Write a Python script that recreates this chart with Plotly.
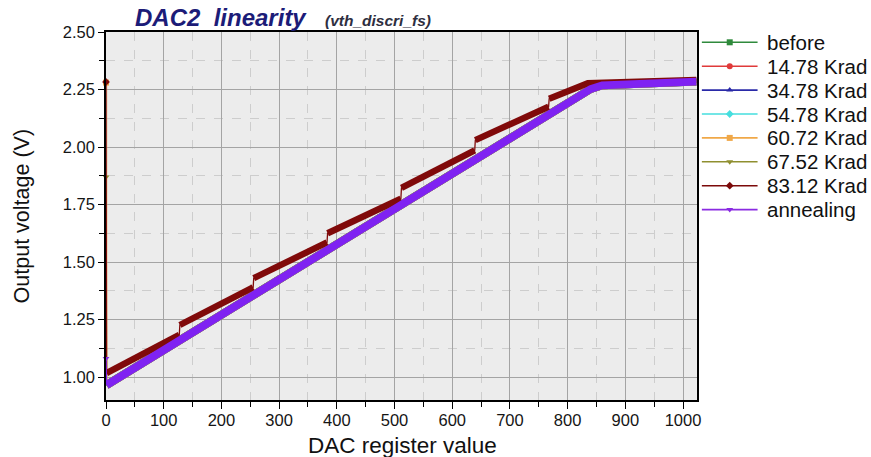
import plotly.graph_objects as go

# ---------------------------------------------------------------------------
# Data: DAC2 output voltage (V) versus register code, one list per dose step.
# The first entry of every list is the reading taken at code 0.
# ---------------------------------------------------------------------------
codes_main = [0, 1, 840, 860, 1023]
before = [0.966, 0.966, 2.253, 2.269, 2.285]
krad_14_78 = [0.965, 0.965, 2.252, 2.268, 2.285]
krad_34_78 = [0.965, 0.965, 2.252, 2.268, 2.284]
krad_54_78 = [0.965, 0.965, 2.252, 2.268, 2.284]
krad_60_72 = [2.280, 0.965, 2.252, 2.268, 2.284]
krad_67_52 = [1.870, 0.965, 2.252, 2.268, 2.284]
annealing = [1.080, 0.965, 2.252, 2.268, 2.284]

codes_83_12 = [0, 1, 127, 128, 255, 256, 383, 384, 511, 512,
               639, 640, 767, 768, 835, 1023]
krad_83_12 = [2.283, 1.017, 1.183, 1.226, 1.390, 1.430, 1.585, 1.625,
              1.775, 1.822, 1.985, 2.030, 2.175, 2.210, 2.277, 2.292]

series_names = ["before", "14.78 Krad", "34.78 Krad", "54.78 Krad",
                "60.72 Krad", "67.52 Krad", "83.12 Krad", "annealing"]
series_codes = [codes_main] * 6 + [codes_83_12, codes_main]
series_values = [before, krad_14_78, krad_34_78, krad_54_78,
                 krad_60_72, krad_67_52, krad_83_12, annealing]
series_colors = ["#2f8a3c", "#e03a3a", "#2a2aa8", "#45dede",
                 "#f0a848", "#8f8f30", "#7c0a0a", "#8a2be2"]
band_colors = ["#2f8a3c", "#e03a3a", "#2a2aa8", "#45dede",
               "#f0a848", "#8f8f30", "#800a0a", "#7f22f2"]
series_symbols = ["square", "circle", "triangle-up", "diamond",
                  "square", "triangle-down", "diamond", "triangle-down"]

x_ticks = list(range(0, 1001, 100))
y_ticks = [1.00, 1.25, 1.50, 1.75, 2.00, 2.25, 2.50]

# ---------------------------------------------------------------------------
# Geometry of the page (pixels)
# ---------------------------------------------------------------------------
W, H = 871, 457
ML, MT, MB = 106, 32, 57
PLOT_RIGHT = 700
PAPER_W = W - ML
PLOT_BOTTOM = H - MB
x_dom_end = (PLOT_RIGHT - ML) / PAPER_W


def px_x(px):
    return (px - ML) / PAPER_W


def px_y(py):
    return (PLOT_BOTTOM - py) / (PLOT_BOTTOM - MT)


def band_path(codes, vals):
    """Wide stroke of a series, broken wherever the value jumps between
    two neighbouring codes; the code-0 reading is left to the thin line."""
    xs, ys = [], []
    for i in range(1, len(codes)):
        if i > 1 and codes[i] - codes[i - 1] == 1:
            xs.append(None)
            ys.append(None)
        xs.append(codes[i])
        ys.append(vals[i])
    return xs, ys


fig = go.Figure()

band_widths = [7.8, 7.8, 7.8, 7.8, 7.8, 7.8, 6.4, 7.8]
for name, cx, vals, col, bcol, sym, bw in zip(series_names, series_codes,
                                              series_values, series_colors,
                                              band_colors, series_symbols,
                                              band_widths):
    thin_w = 3 if name == "60.72 Krad" else 1.3
    thin_op = 0.35 if name == "60.72 Krad" else 1.0
    fig.add_trace(go.Scatter(x=cx, y=vals, mode="lines",
                             line=dict(color=bcol, width=thin_w),
                             opacity=thin_op, showlegend=False,
                             hoverinfo="skip"))
    bx, by = band_path(cx, vals)
    fig.add_trace(go.Scatter(x=bx, y=by, mode="lines",
                             line=dict(color=bcol, width=bw),
                             showlegend=False, connectgaps=False,
                             name=name))
    # reading taken at code 0
    if abs(vals[0] - vals[1]) > 0.05:
        fig.add_trace(go.Scatter(x=[cx[0]], y=[vals[0]], mode="markers",
                                 marker=dict(symbol=sym, size=6, color=col),
                                 cliponaxis=False, showlegend=False,
                                 hoverinfo="skip"))

# ---------------------------------------------------------------------------
# Key drawn in its own pixel-scaled subplot on the right
# ---------------------------------------------------------------------------
font_family = "Liberation Sans, Arial, sans-serif"
key_y0, key_dy = 42.3, 23.9
key_x0, key_x1, key_xm, key_tx = 705, 761, 733, 768
for i, (name, col, sym) in enumerate(zip(series_names, series_colors,
                                         series_symbols)):
    yy = key_y0 + i * key_dy
    fig.add_trace(go.Scatter(x=[key_x0, key_xm, key_x1], y=[yy, yy, yy],
                             mode="lines", line=dict(color=col, width=1.6),
                             xaxis="x2", yaxis="y2", showlegend=False,
                             hoverinfo="skip"))
    fig.add_trace(go.Scatter(x=[key_xm], y=[yy], mode="markers",
                             marker=dict(symbol=sym, size=6, color=col),
                             xaxis="x2", yaxis="y2", showlegend=False,
                             hoverinfo="skip"))
    fig.add_annotation(x=key_tx, y=yy, xref="x2", yref="y2", text=name,
                       showarrow=False, xanchor="left", yanchor="middle",
                       font=dict(family=font_family, size=20.5,
                                 color="#111111"))

fig.update_layout(
    width=W, height=H,
    margin=dict(l=ML, r=0, t=MT, b=MB, pad=0),
    paper_bgcolor="white",
    plot_bgcolor="white",
    showlegend=False,
    font=dict(family=font_family, size=16.5, color="#151515"),
    xaxis=dict(
        domain=[0, x_dom_end], range=[0, 1024],
        tickvals=x_ticks, ticktext=[str(v) for v in x_ticks],
        ticks="outside", ticklen=7, tickwidth=1.3, tickcolor="black",
        ticklabelstandoff=-3,
        showline=True, linecolor="black", linewidth=1.6, mirror=True,
        showgrid=True, gridcolor="#a4a4a4", gridwidth=1, zeroline=False,
        tickfont=dict(size=16.5),
        minor=dict(dtick=50, tick0=0, ticks="outside", ticklen=5,
                   tickwidth=1.2, tickcolor="black", showgrid=True,
                   gridcolor="#cdcdcd", griddash="dash", gridwidth=1),
    ),
    yaxis=dict(
        range=[0.9, 2.5],
        tickvals=y_ticks, ticktext=[f"{v:.2f}" for v in y_ticks],
        ticks="outside", ticklen=6, tickwidth=1.3, tickcolor="black",
        showline=True, linecolor="black", linewidth=1.6, mirror=True,
        showgrid=True, gridcolor="#a4a4a4", gridwidth=1, zeroline=False,
        tickfont=dict(size=16.5),
        minor=dict(dtick=0.125, tick0=1.0, ticks="outside", ticklen=5,
                   tickwidth=1.2, tickcolor="black", showgrid=True,
                   gridcolor="#cdcdcd", griddash="dash", gridwidth=1),
    ),
    xaxis2=dict(domain=[x_dom_end, 1], range=[PLOT_RIGHT, W], anchor="y2",
                visible=False, fixedrange=True),
    yaxis2=dict(domain=[0, 1], range=[PLOT_BOTTOM, MT], anchor="x2",
                visible=False, fixedrange=True),
    shapes=[dict(type="rect", xref="x domain", yref="y domain",
                 x0=0, x1=1, y0=0, y1=1, fillcolor="#ececec",
                 line=dict(width=0), layer="below")],
)

# Title, subtitle and axis titles
fig.add_annotation(x=px_x(133), y=px_y(18), xref="paper", yref="paper",
                   text="<b><i>DAC2\u00a0 linearity</i></b>", showarrow=False,
                   xanchor="left", yanchor="middle",
                   font=dict(family=font_family, size=24, color="#1c1c78"))
fig.add_annotation(x=px_x(324), y=px_y(21), xref="paper", yref="paper",
                   text="<b><i>(vth_discri_fs)</i></b>", showarrow=False,
                   xanchor="left", yanchor="middle",
                   font=dict(family=font_family, size=15.5, color="#2e2e40"))
fig.add_annotation(x=px_x(404), y=px_y(445), xref="paper", yref="paper",
                   text="DAC register value", showarrow=False,
                   xanchor="center", yanchor="middle",
                   font=dict(family=font_family, size=22.5, color="#111111"))
fig.add_annotation(x=px_x(22), y=px_y(216), xref="paper", yref="paper",
                   text="Output voltage (V)", showarrow=False, textangle=-90,
                   xanchor="center", yanchor="middle",
                   font=dict(family=font_family, size=21.5, color="#111111"))

fig.write_html("out.html")
